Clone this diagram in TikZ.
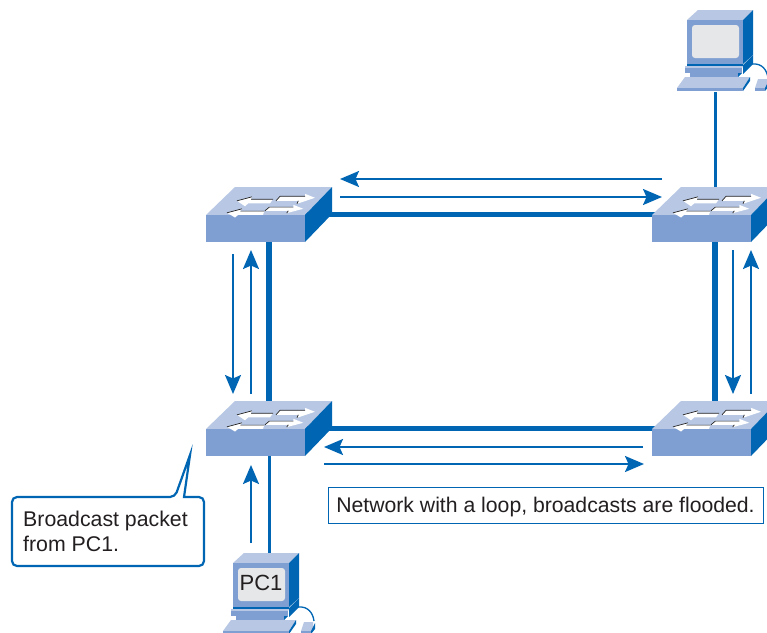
\documentclass[tikz,border=0pt]{standalone}
\usepackage{fontspec}
\setmainfont{Liberation Sans}
\usetikzlibrary{arrows.meta}
\definecolor{cblue}{HTML}{0066B3}
\definecolor{clight}{HTML}{B7C7E4}
\definecolor{cfront}{HTML}{7F9FD3}
\definecolor{cscreen}{HTML}{E6E7E8}
\definecolor{ctext}{HTML}{231F20}
\tikzset{
  hub/.style={minimum width=126pt,minimum height=55pt,inner sep=0pt,outer sep=0pt},
  pcnode/.style={minimum width=74pt,minimum height=82pt,inner sep=0pt,outer sep=0pt},
  trunk/.style={draw=cblue,line width=5.5pt},
  drop/.style={draw=cblue,line width=3pt},
  flow/.style={draw=cblue,line width=2pt,-{Stealth[length=19pt,width=16pt,inset=3.5pt]}},
  lbl/.style={text=ctext,font=\fontsize{21.3}{25}\selectfont,inner sep=0pt,align=left},
}
% switch artwork: origin = centre of the bounding box
\newcommand{\swart}[2]{%
\begin{scope}[shift={(#1,#2)},shift={(-63,-27.5)}]
  \fill[clight] (0,28) -- (29,0) -- (126,0) -- (99,28) -- cycle;
  \fill[cfront] (0,28) rectangle (99,55);
  \fill[cblue] (99,28) -- (126,0) -- (126,27) -- (99,55) -- cycle;
  \begin{scope}[shift={(0,-1.2)}]
  \fill[white] (31,15) -- (46,11) -- (45,13.5) -- (67,13.5) -- (64,17.5) -- (42.3,17.5) -- (39,20.5) -- cycle;
  \fill[white] (109,12) -- (99,8) -- (99,10.5) -- (74,10.5) -- (70,15) -- (92.3,15) -- (91,18) -- cycle;
  \fill[white] (21,27) -- (36,23) -- (34.3,25.3) -- (58.3,25.3) -- (57,29) -- (32.3,29) -- (29,31.7) -- cycle;
  \fill[white] (97.3,23) -- (87.3,19) -- (87.3,21.3) -- (63.3,21.3) -- (59,25) -- (82.3,25) -- (80.7,27.3) -- cycle;
  \draw[black!85,line width=.7pt] (31,15) -- (46,11) (45,13.5) -- (67,13.5)
    (70,15) -- (74,10.5) -- (99,10.5) (92.3,15)--(91,18)
    (21,27) -- (36,23) (34.3,25.3) -- (58.3,25.3)
    (59,25) -- (63.3,21.3) -- (87.3,21.3) (82.3,25)--(80.7,27.3);
  \end{scope}
\end{scope}}
% computer artwork: origin = monitor front top-left corner
\newcommand{\pcart}[2]{%
\begin{scope}[shift={(#1,#2)}]
  \draw[cblue,line width=1.3pt] (65,44) .. controls (75,43) and (80,50) .. (81,58);
  \fill[cblue] (56,45) -- (66,35) -- (66,44) -- (56,54) -- cycle;
  \fill[clight] (0,0) -- (11,-10) -- (66,-10) -- (56,0) -- cycle;
  \fill[cfront] (0,0) rectangle (56,44);
  \fill[cblue] (56,0) -- (66,-10) -- (66,35) -- (56,44) -- cycle;
  \fill[cscreen,rounded corners=3pt] (5,5) rectangle (52,38);
  \fill[cblue] (0,44) rectangle (56,46);
  \fill[clight] (-2,46) -- (56,46) -- (55,48) -- (-2,48) -- cycle;
  \fill[cfront] (-2,48) rectangle (55,53);
  \fill[cfront] (3,53) rectangle (51,57);
  \fill[cblue] (51,53) -- (55,53) -- (51,57) -- cycle;
  \fill[clight] (-2,57) -- (63,57) -- (56,68) -- (-10,68) -- cycle;
  \fill[cfront] (-10,68) rectangle (56,71);
  \fill[cblue] (56,68) -- (63,57) -- (63,61) -- (56,71) -- cycle;
  \fill[clight] (71,59) -- (80,59) -- (80,68) -- (68,68) -- cycle;
  \fill[cfront] (68,68) rectangle (78,71);
  \fill[cblue] (78,68) -- (82,60) -- (82,66) -- (78,71) -- cycle;
\end{scope}}
\begin{document}
\begin{tikzpicture}[x=1pt,y=-1pt]
\useasboundingbox (0,0) rectangle (767,632);
\clip (0,0) rectangle (767,632);
\fill[white] (0,0) rectangle (767,632);
% named places
\node[hub] (s1) at (269,214.5) {};
\node[hub] (s2) at (715,214.5) {};
\node[hub] (s3) at (269,428.5) {};
\node[hub] (s4) at (715,428.5) {};
\node[pcnode] (pctop) at (716,51) {};
\node[pcnode] (pcone) at (262,594) {};
% links
\draw[trunk] (s1.center) -- (s2.center);
\draw[trunk] (s1.center) -- (s3.center);
\draw[trunk] (s2.center) -- (s4.center);
\draw[trunk] (s3.center) -- (s4.center);
\draw[drop] (s2.center) -- (s2.center |- pctop.south);
\draw[drop] (s3.center) -- (s3.center |- pcone.north);
% artwork
\swart{269}{214.5}\swart{715}{214.5}\swart{269}{428.5}\swart{715}{428.5}
\pcart{687}{20}
\pcart{233}{563}
\node[lbl,font=\fontsize{22}{26}\selectfont] (pclabel) at (261,583) {PC1};
% flow arrows
\coordinate (a1) at (662,179); \coordinate (a2) at (340,179);
\coordinate (a3) at (340,197); \coordinate (a4) at (662,197);
\coordinate (b1) at (233,254); \coordinate (b2) at (233,394);
\coordinate (b3) at (251,394); \coordinate (b4) at (251,250);
\coordinate (c1) at (733,250); \coordinate (c2) at (733,394);
\coordinate (c3) at (751,394); \coordinate (c4) at (751,250);
\coordinate (d1) at (643,447); \coordinate (d2) at (324,447);
\coordinate (d3) at (324,464); \coordinate (d4) at (644,464);
\coordinate (e1) at (251,543); \coordinate (e2) at (251,465);
\foreach \p/\q in {a1/a2,a3/a4,b1/b2,b3/b4,c1/c2,c3/c4,d1/d2,d3/d4,e1/e2}
  \draw[flow] (\p) -- (\q);
% callout
\coordinate (tip) at (190,455);
\draw[cblue,line width=2.2pt,fill=white,rounded corners=5pt]
  (12,530) -- (12,497) -- (175,497) [sharp corners] -- (tip) -- (184,497)
  [rounded corners=5pt] -- (204,497) -- (204,566) -- (12,566) -- cycle;
\node[lbl,anchor=north west] (note) at (23,510.5) {Broadcast packet\\from PC1.};
% caption
\node[draw=cblue,line width=1pt,fill=white,minimum width=435pt,minimum height=36pt,inner sep=0pt,
  text height=15pt,text depth=0.5pt,
  text=ctext,font=\fontsize{21.2}{24}\selectfont] (cap) at (545.5,505.5) {Network with a loop, broadcasts are flooded.};
\end{tikzpicture}
\end{document}
